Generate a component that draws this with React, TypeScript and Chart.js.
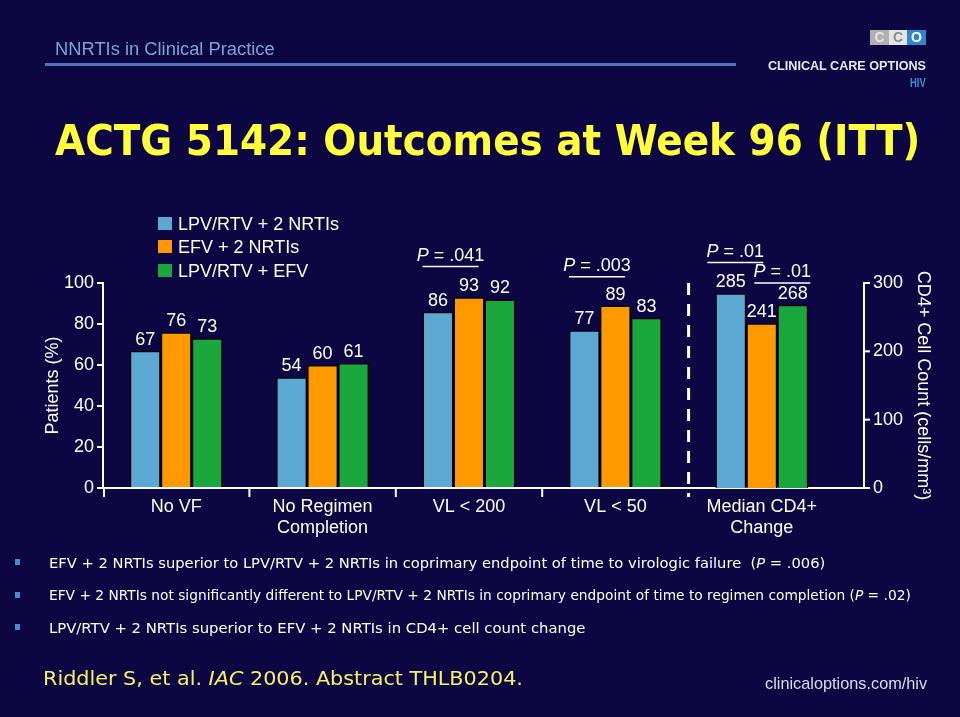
import React, { useEffect, useLayoutEffect, useRef } from 'react';
import { Chart, registerables } from 'chart.js';

Chart.register(...registerables);

// ---------- data ----------
const categories: (string | string[])[] = [
  'No VF',
  ['No Regimen', 'Completion'],
  'VL < 200',
  'VL < 50',
  ['Median CD4+', 'Change'],
];
const seriesNames = ['LPV/RTV + 2 NRTIs', 'EFV + 2 NRTIs', 'LPV/RTV + EFV'];
const lpvNrtiPct = [67, 54, 86, 77];
const efvNrtiPct = [76, 60, 93, 89];
const lpvEfvPct = [73, 61, 92, 83];
const cd4MedianChange = [285, 241, 268];
const pctTicks = [0, 20, 40, 60, 80, 100];
const cd4Ticks = [0, 100, 200, 300];
const pValueLabels = ['.041', '.003', '.01', '.01'];
// [category index, from series, to series]
const pValuePairs = [
  [2, 0, 1],
  [3, 0, 1],
  [4, 0, 1],
  [4, 1, 2],
];

// ---------- style / layout ----------
const COLORS = ['#5ba9d3', '#ff9900', '#1aa83c'];
const BG = '#0c0642';
const FONT = '"Liberation Sans", Arial, sans-serif';
const P_LEVEL = [108, 103, 110, 100]; // left-axis units where the P line sits
const P_SHIFT = [0, 0, -8, 8];

function Fit({ x, y, w, style, children }: any) {
  const ref = useRef<HTMLSpanElement>(null);
  useLayoutEffect(() => {
    const el = ref.current;
    if (!el) return;
    const nw = el.offsetWidth || 1;
    el.style.transform = `translateY(-50%) scaleX(${w / nw})`;
  }, []);
  return (
    <span
      ref={ref}
      style={{
        position: 'absolute',
        left: x,
        top: y,
        whiteSpace: 'nowrap',
        transformOrigin: 'left center',
        lineHeight: 1,
        display: 'inline-block',
        transform: 'translateY(-50%)',
        ...style,
      }}
    >
      {children}
    </span>
  );
}

const slidePlugin = {
  id: 'slidePlugin',
  afterDraw(chart: any) {
    const ctx = chart.ctx;
    const xs = chart.scales.x;
    const y = chart.scales.y;
    const y2 = chart.scales.y2;
    const ca = chart.chartArea;
    const catW = (xs.right - xs.left) / categories.length;
    const axisX2 = 864;
    ctx.save();
    ctx.strokeStyle = '#ffffff';
    ctx.fillStyle = '#ffffff';

    // extend x axis line to right axis
    ctx.lineWidth = 2;
    ctx.beginPath();
    ctx.moveTo(ca.right - 2, xs.top);
    ctx.lineTo(axisX2 + 1, xs.top);
    ctx.stroke();

    // right axis line and ticks
    const topY = y2.getPixelForValue(cd4Ticks[cd4Ticks.length - 1]);
    ctx.beginPath();
    ctx.moveTo(axisX2, topY - 1);
    ctx.lineTo(axisX2, xs.top + 1);
    ctx.stroke();
    cd4Ticks.forEach((v) => {
      const py = y2.getPixelForValue(v);
      ctx.beginPath();
      ctx.moveTo(axisX2, py);
      ctx.lineTo(axisX2 + 6, py);
      ctx.stroke();
    });

    // x tick marks at category boundaries
    for (let i = 0; i < categories.length - 1; i++) {
      const bx = xs.left + i * catW + (i === 0 ? 1 : 0);
      ctx.beginPath();
      ctx.moveTo(bx, xs.top);
      ctx.lineTo(bx, xs.top + 9);
      ctx.stroke();
    }

    // dashed separator
    const dx = xs.left + (categories.length - 1) * catW;
    ctx.lineWidth = 3;
    ctx.setLineDash([12, 9]);
    ctx.beginPath();
    ctx.moveTo(dx, topY);
    ctx.lineTo(dx, xs.top + 9);
    ctx.stroke();
    ctx.setLineDash([]);

    // data labels
    ctx.font = `18px ${FONT}`;
    ctx.textAlign = 'center';
    ctx.textBaseline = 'alphabetic';
    chart.data.datasets.forEach((ds: any, di: number) => {
      const meta = chart.getDatasetMeta(di);
      ds.data.forEach((v: any, j: number) => {
        if (v === null || v === undefined) return;
        const el = meta.data[j];
        ctx.fillText(String(v), el.x, el.y - 6);
      });
    });

    // P-value annotations
    const barEl = (cat: number, s: number) =>
      chart.getDatasetMeta(cat === categories.length - 1 ? 3 + s : s).data[cat];
    pValuePairs.forEach(([cat, a, b], k) => {
      const ea = barEl(cat, a);
      const eb = barEl(cat, b);
      const x1 = ea.x - ea.width / 2 + P_SHIFT[k];
      const x2 = eb.x + eb.width / 2 - 6 + P_SHIFT[k];
      const ly = y.getPixelForValue(P_LEVEL[k]);
      ctx.lineWidth = 1.5;
      ctx.beginPath();
      ctx.moveTo(x1, ly);
      ctx.lineTo(x2, ly);
      ctx.stroke();
      const cx = (x1 + x2) / 2;
      ctx.font = `italic 18px ${FONT}`;
      const wP = ctx.measureText('P').width;
      ctx.font = `18px ${FONT}`;
      const rest = ' = ' + pValueLabels[k];
      const wR = ctx.measureText(rest).width;
      const sx = cx - (wP + wR) / 2;
      ctx.textAlign = 'left';
      ctx.font = `italic 18px ${FONT}`;
      ctx.fillText('P', sx, ly - 6);
      ctx.font = `18px ${FONT}`;
      ctx.fillText(rest, sx + wP, ly - 6);
    });

    // legend
    ctx.textAlign = 'left';
    ctx.textBaseline = 'middle';
    ctx.font = `18px ${FONT}`;
    const rows = [224, 247, 271];
    for (let i = 0; i < 3; i++) {
      const ds = chart.data.datasets[i];
      ctx.fillStyle = ds.backgroundColor;
      ctx.fillRect(158, rows[i] - 7, 14, 13);
      ctx.fillStyle = '#ffffff';
      ctx.fillText(ds.label, 178, rows[i] + 1);
    }
    ctx.restore();
  },
};

function SlideChart() {
  const ref = useRef<HTMLCanvasElement>(null);
  useEffect(() => {
    if (!ref.current) return;
    const pctSeries = [lpvNrtiPct, efvNrtiPct, lpvEfvPct];
    const datasets: any[] = [
      ...pctSeries.map((vals, i) => ({
        label: seriesNames[i],
        data: [...vals, null],
        yAxisID: 'y',
        stack: 's' + i,
        backgroundColor: COLORS[i],
        borderColor: '#000000',
        borderWidth: 1.5,
      })),
      ...cd4MedianChange.map((v, i) => ({
        label: seriesNames[i],
        data: [null, null, null, null, v],
        yAxisID: 'y2',
        stack: 's' + i,
        backgroundColor: COLORS[i],
        borderColor: '#000000',
        borderWidth: 1.5,
      })),
    ];
    const chart = new Chart(ref.current, {
      type: 'bar',
      data: { labels: categories as any, datasets },
      options: {
        responsive: false,
        animation: false,
        devicePixelRatio: 1,
        layout: { padding: { left: 30, right: 25, top: 283, bottom: 169 } },
        datasets: { bar: { categoryPercentage: 0.635, barPercentage: 1.0 } },
        plugins: { legend: { display: false }, tooltip: { enabled: false }, title: { display: false } },
        scales: {
          x: {
            type: 'category',
            offset: true,
            grid: { display: false },
            border: { display: true, color: '#ffffff', width: 2 },
            ticks: { color: '#ffffff', font: { family: FONT, size: 18, lineHeight: 1.15 }, padding: 1, maxRotation: 0, autoSkip: false },
            afterFit: (s: any) => {
              s.height = 60;
            },
          },
          y: {
            type: 'linear',
            position: 'left',
            min: 0,
            max: 100,
            stacked: false,
            afterBuildTicks: (s: any) => {
              s.ticks = pctTicks.map((v) => ({ value: v }));
            },
            grid: { display: true, drawOnChartArea: false, drawTicks: true, tickLength: 6, color: '#ffffff', lineWidth: 2 },
            border: { display: true, color: '#ffffff', width: 2 },
            ticks: { color: '#ffffff', font: { family: FONT, size: 18 }, padding: 3 },
            title: { display: true, text: 'Patients (%)', color: '#ffffff', font: { family: FONT, size: 18 }, padding: { top: 12, bottom: 0 } },
            afterFit: (s: any) => {
              s.width = 73;
            },
          },
          y2: {
            type: 'linear',
            position: 'right',
            min: 0,
            max: 300,
            stacked: false,
            afterBuildTicks: (s: any) => {
              s.ticks = cd4Ticks.map((v) => ({ value: v }));
            },
            grid: { display: false, drawTicks: false, tickLength: 0 },
            border: { display: false },
            ticks: { color: '#ffffff', font: { family: FONT, size: 18 }, padding: 38 },
            title: { display: true, text: 'CD4+ Cell Count (cells/mm³)', color: '#ffffff', font: { family: FONT, size: 18 }, padding: { top: 1, bottom: 0 } },
            afterFit: (s: any) => {
              s.width = 100;
            },
          },
        },
      },
      plugins: [slidePlugin],
    });
    return () => chart.destroy();
  }, []);
  return (
    <canvas
      ref={ref}
      width={960}
      height={717}
      style={{ position: 'absolute', left: 0, top: 0, width: 960, height: 717 }}
    />
  );
}

const bulletFont = { fontFamily: '"DejaVu Sans", sans-serif', fontSize: 14, color: '#ffffff' };

export default function App() {
  return (
    <div style={{ position: 'absolute', left: 0, top: 0, width: 960, height: 717, background: BG, overflow: 'hidden' }}>
      <SlideChart />
      {/* header */}
      <Fit x={55} y={49} w={220} style={{ fontFamily: FONT, fontSize: 18, color: '#7ba4d6' }}>
        NNRTIs in Clinical Practice
      </Fit>
      <div style={{ position: 'absolute', left: 45, top: 63, width: 691, height: 3, background: '#4f75b8' }} />
      {/* logo */}
      <div style={{ position: 'absolute', left: 870, top: 30, width: 19, height: 15, background: '#b0b0b0', color: '#e6e6e6', font: `bold 14px ${FONT}`, textAlign: 'center', lineHeight: '15px' }}>C</div>
      <div style={{ position: 'absolute', left: 889, top: 30, width: 18, height: 15, background: '#e4e4e4', color: '#8a8a8a', font: `bold 14px ${FONT}`, textAlign: 'center', lineHeight: '15px' }}>C</div>
      <div style={{ position: 'absolute', left: 907, top: 30, width: 19, height: 15, background: '#2f86c8', color: '#ffffff', font: `bold 14px ${FONT}`, textAlign: 'center', lineHeight: '15px' }}>O</div>
      <Fit x={768} y={65} w={158} style={{ fontFamily: FONT, fontSize: 13, fontWeight: 'bold', color: '#e8e8f0' }}>
        CLINICAL CARE OPTIONS
      </Fit>
      <Fit x={910} y={82} w={16} style={{ fontFamily: FONT, fontSize: 13, fontWeight: 'bold', color: '#3c8fd4' }}>
        HIV
      </Fit>
      {/* title */}
      <Fit x={55} y={141} w={865} style={{ fontFamily: '"DejaVu Sans", sans-serif', fontSize: 42, fontWeight: 'bold', color: '#ffff3c' }}>
        ACTG 5142: Outcomes at Week 96 (ITT)
      </Fit>
      {/* bullets */}
      {[562, 595, 627].map((cy) => (
        <div key={cy} style={{ position: 'absolute', left: 15, top: cy - 3, width: 5, height: 6, background: '#4f86cc' }} />
      ))}
      <Fit x={49} y={563} w={776} style={bulletFont}>
        EFV + 2 NRTIs superior to LPV/RTV + 2 NRTIs in coprimary endpoint of time to virologic failure&nbsp;&nbsp;(<i>P</i> = .006)
      </Fit>
      <Fit x={49} y={595} w={862} style={bulletFont}>
        EFV + 2 NRTIs not significantly different to LPV/RTV + 2 NRTIs in coprimary endpoint of time to regimen completion (<i>P</i> = .02)
      </Fit>
      <Fit x={49} y={628} w={537} style={bulletFont}>
        LPV/RTV + 2 NRTIs superior to EFV + 2 NRTIs in CD4+ cell count change
      </Fit>
      {/* footer */}
      <Fit x={43} y={678} w={480} style={{ fontFamily: '"DejaVu Sans", sans-serif', fontSize: 20, color: '#f4f06a' }}>
        Riddler S, et al. <i>IAC</i> 2006. Abstract THLB0204.
      </Fit>
      <Fit x={765} y={683} w={162} style={{ fontFamily: FONT, fontSize: 17, color: '#dcdcf0' }}>
        clinicaloptions.com/hiv
      </Fit>
    </div>
  );
}
